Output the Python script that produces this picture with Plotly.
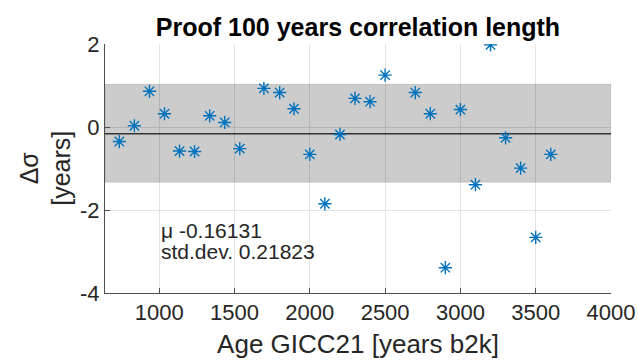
import plotly.graph_objects as go

# ---- data ----
ages = [735, 835, 935, 1035, 1135, 1235, 1335, 1435, 1535, 1695, 1800, 1895, 2000,
        2100, 2200, 2300, 2400, 2500, 2700, 2800, 2900, 3000, 3100, 3200, 3300,
        3400, 3500, 3600]
dsigma = [-0.35, 0.03, 0.86, 0.32, -0.58, -0.59, 0.27, 0.11, -0.52, 0.93, 0.83, 0.44,
          -0.66, -1.85, -0.18, 0.69, 0.61, 1.25, 0.83, 0.32, -3.39, 0.42, -1.39, 1.98,
          -0.26, -0.99, -2.66, -0.66]
mu = -0.16131
band_lo = -1.33
band_hi = 1.03
x_range = [640, 4000]
y_range = [-4, 2]
x_ticks = [1000, 1500, 2000, 2500, 3000, 3500, 4000]
y_ticks = [-4, -2, 0, 2]
y_ticktext = ["-4", "-2", "0", "2"]
stat_lines = [("μ -0.16131", 1000, -2.5), ("std.dev. 0.21823", 1000, -3.0)]

FONT = "Liberation Sans, Arial, Helvetica, sans-serif"
AXC = "#4d4d4d"

fig = go.Figure()

# shaded band (trace so it sits above the grid)
fig.add_trace(go.Scatter(
    x=[x_range[0], x_range[1], x_range[1], x_range[0], x_range[0]],
    y=[band_lo, band_lo, band_hi, band_hi, band_lo],
    mode="lines", fill="toself", fillcolor="rgba(0,0,0,0.2)",
    line=dict(color="rgba(0,0,0,0.12)", width=1),
    showlegend=False, hoverinfo="skip"))
# mean line
fig.add_trace(go.Scatter(
    x=x_range, y=[mu, mu], mode="lines",
    line=dict(color="#333333", width=1.5), showlegend=False, hoverinfo="skip"))

fig.add_trace(go.Scatter(
    x=ages, y=dsigma, mode="markers",
    marker=dict(symbol="asterisk-open", size=11, color="#0072BD",
                line=dict(color="#0072BD", width=1.4)),
    showlegend=False, hoverinfo="x+y"))

annotations = []
for txt, ax, ay in stat_lines:
    annotations.append(dict(text=txt, x=ax, y=ay, xref="x", yref="y",
                            xanchor="left", yanchor="middle", showarrow=False,
                            font=dict(family=FONT, size=21, color="#262626")))
annotations.append(dict(text="Δσ<br>[years]", x=-0.118, y=0.5, xref="paper", yref="paper",
                        xanchor="center", yanchor="middle", showarrow=False, textangle=-90,
                        font=dict(family=FONT, size=25, color="#262626")))

fig.update_layout(
    width=638, height=363,
    margin=dict(l=105, r=27, t=44, b=70, autoexpand=False),
    paper_bgcolor="white", plot_bgcolor="white",
    font=dict(family=FONT, size=22, color="#262626"),
    title=dict(text="<b>Proof 100 years correlation length</b>", x=(105 + 611) / 2 / 638,
               xanchor="center", y=1 - 36 / 363, yanchor="bottom",
               font=dict(family=FONT, size=25, color="#000000")),
    annotations=annotations,
    xaxis=dict(range=x_range, tickvals=x_ticks, showgrid=True, gridcolor="#e3e3e3",
               gridwidth=1, zeroline=False, showline=True, linecolor=AXC, linewidth=1,
               ticks="inside", ticklen=5, tickcolor=AXC, automargin=False,
               tickfont=dict(family=FONT, size=22, color="#262626"),
               title=dict(text="Age GICC21 [years b2k]", standoff=10,
                          font=dict(family=FONT, size=26, color="#262626"))),
    yaxis=dict(range=y_range, tickvals=y_ticks, ticktext=y_ticktext, showgrid=True,
               gridcolor="#e3e3e3", gridwidth=1, zeroline=False, showline=True,
               linecolor=AXC, linewidth=1, ticks="inside", ticklen=5, tickcolor=AXC,
               automargin=False,
               tickfont=dict(family=FONT, size=22, color="#262626")),
)

fig.write_html("out.html")
